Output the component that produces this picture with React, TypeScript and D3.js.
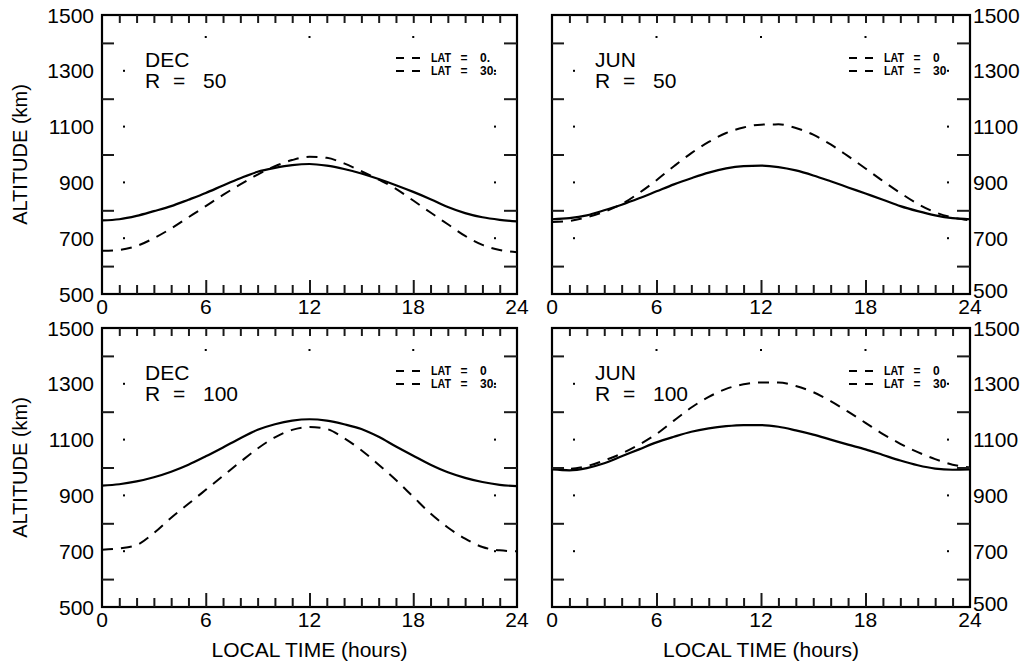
import React, { useEffect, useRef } from 'react';
import * as d3 from 'd3';

// local time, hours
const hours = [0, 1, 2, 3, 4, 5, 6, 7, 8, 9, 10, 11, 12, 13, 14, 15, 16, 17, 18, 19, 20, 21, 22, 23, 24];

// altitude (km) per hour, LAT = 0 (solid) and LAT = 30 (dashed)
const decR50Lat0 = [764, 768, 780, 797, 815, 838, 862, 889, 915, 938, 952, 962, 966, 960, 948, 932, 912, 890, 866, 840, 812, 790, 775, 766, 760];
const decR50Lat30 = [655, 658, 672, 700, 735, 775, 815, 855, 893, 928, 958, 980, 992, 988, 968, 940, 910, 877, 835, 792, 750, 708, 676, 658, 650];
const junR50Lat0 = [768, 772, 782, 800, 820, 843, 868, 893, 915, 935, 950, 958, 960, 955, 943, 925, 904, 882, 860, 838, 815, 797, 782, 772, 768];
const junR50Lat30 = [758, 762, 775, 795, 822, 862, 908, 958, 1005, 1045, 1077, 1097, 1107, 1108, 1095, 1071, 1036, 994, 950, 905, 862, 823, 793, 774, 764];
const decR100Lat0 = [935, 940, 950, 965, 985, 1010, 1040, 1072, 1105, 1135, 1155, 1168, 1173, 1168, 1155, 1138, 1110, 1075, 1042, 1010, 983, 963, 948, 938, 933];
const decR100Lat30 = [705, 710, 722, 765, 820, 870, 920, 970, 1020, 1068, 1108, 1135, 1145, 1138, 1105, 1062, 1010, 955, 895, 835, 785, 745, 715, 703, 700];
const junR100Lat0 = [993, 990, 998, 1015, 1040, 1065, 1090, 1110, 1128, 1140, 1148, 1152, 1152, 1146, 1133, 1118, 1100, 1082, 1065, 1045, 1025, 1008, 996, 992, 993];
const junR100Lat30 = [995, 995, 1005, 1025, 1050, 1082, 1120, 1168, 1215, 1253, 1282, 1298, 1305, 1305, 1292, 1270, 1238, 1200, 1160, 1120, 1085, 1055, 1030, 1010, 1000];

const xTickLabels = [0, 6, 12, 18, 24];
const yTickLabels = [500, 700, 900, 1100, 1300, 1500];
const yMinorTicks = [600, 800, 1000, 1200, 1400];

const panels = [
  { id: 'a', month: 'DEC', r: '50', lat0: decR50Lat0, lat30: decR50Lat30, legend: ['0.', '30.'], x0: 102, x1: 517, y0: 15, y1: 294, side: 'left', bottom: false },
  { id: 'b', month: 'JUN', r: '50', lat0: junR50Lat0, lat30: junR50Lat30, legend: ['0', '30'], x0: 552, x1: 970, y0: 15, y1: 294, side: 'right', bottom: false },
  { id: 'c', month: 'DEC', r: '100', lat0: decR100Lat0, lat30: decR100Lat30, legend: ['0', '30.'], x0: 102, x1: 517, y0: 328, y1: 607, side: 'left', bottom: true },
  { id: 'd', month: 'JUN', r: '100', lat0: junR100Lat0, lat30: junR100Lat30, legend: ['0', '30'], x0: 552, x1: 970, y0: 328, y1: 607, side: 'right', bottom: true },
];

const font = '"Liberation Sans", Arial, sans-serif';
const tickColor = '#1a1a1a';

const Panel = ({ p }) => {
  const axRef = useRef(null);
  const x = d3.scaleLinear().domain([0, 24]).range([p.x0, p.x1]);
  const y = d3.scaleLinear().domain([500, 1500]).range([p.y1, p.y0]);
  const curve = d3.line<number>().x((_, i) => x(hours[i])).y(d => y(d)).curve(d3.curveMonotoneX);
  const lx = p.x1;

  // tick marks drawn with d3 axes, pointing into the frame
  useEffect(() => {
    const g = d3.select(axRef.current);
    g.selectAll('*').remove();
    const inner = hours.filter(h => h > 0 && h < 24);
    const minor = inner.filter(h => h % 6 !== 0);
    const major = inner.filter(h => h % 6 === 0);
    const clean = sel => {
      sel.select('.domain').remove();
      sel.selectAll('text').remove();
      sel.selectAll('line').attr('stroke', tickColor).attr('stroke-width', 2);
    };
    g.append('g').attr('transform', `translate(0,${p.y1})`).call(d3.axisTop(x).tickValues(minor).tickSize(9)).call(clean);
    g.append('g').attr('transform', `translate(0,${p.y1})`).call(d3.axisTop(x).tickValues(major).tickSize(14)).call(clean);
    g.append('g').attr('transform', `translate(0,${p.y0})`).call(d3.axisBottom(x).tickValues(inner).tickSize(8)).call(clean);
    g.append('g').attr('transform', `translate(${p.x0},0)`).call(d3.axisRight(y).tickValues(yMinorTicks).tickSize(12)).call(clean);
    g.append('g').attr('transform', `translate(${p.x1},0)`).call(d3.axisLeft(y).tickValues(yMinorTicks).tickSize(13)).call(clean);
  }, [p]);

  return (
    <g>
      <path d={curve(p.lat0)} fill="none" stroke="#000" strokeWidth={2.2} />
      <path d={curve(p.lat30)} fill="none" stroke="#000" strokeWidth={2} strokeDasharray="11 8" />

      <rect x={p.x0} y={p.y0} width={p.x1 - p.x0} height={p.y1 - p.y0} fill="none" stroke="#000" strokeWidth={2.2} />
      <g ref={axRef} />

      {/* faint major ticks show only as dots */}
      {xTickLabels.slice(1, -1).map(h => (
        <rect key={'xd' + h} x={x(h) - 1} y={p.y0 + 21} width={2} height={2} fill="#000" />
      ))}
      {yTickLabels.slice(1, -1).map(v => (
        <rect key={'ydl' + v} x={p.x0 + 21} y={y(v) - 1} width={2} height={2} fill="#000" />
      ))}
      {yTickLabels.slice(1, -1).map(v => (
        <rect key={'ydr' + v} x={p.x1 - 23} y={y(v) - 1} width={2} height={2} fill="#000" />
      ))}

      {xTickLabels.map(h => (
        <text key={'xl' + h} x={x(h)} y={p.y1 + 20} textAnchor="middle" fontSize={21} fontFamily={font}>{h}</text>
      ))}

      {yTickLabels.map(v => (
        <text key={'yt' + v} x={p.side === 'left' ? p.x0 - 8 : p.x1 + 3} y={p.side === 'right' && v === 500 ? y(v) - 4 : y(v)} dy="0.36em"
          textAnchor={p.side === 'left' ? 'end' : 'start'} fontSize={21} fontFamily={font}>{v}</text>
      ))}

      <text x={p.x0 + 43} y={p.y0 + 52} fontSize={21} fontFamily={font}>{p.month}</text>
      <text x={p.x0 + 43} y={p.y0 + 73} fontSize={21} fontFamily={font}>R</text>
      <text x={p.x0 + 71} y={p.y0 + 73} fontSize={21} fontFamily={font}>=</text>
      <text x={p.x0 + 101} y={p.y0 + 73} fontSize={21} fontFamily={font}>{p.r}</text>

      {p.legend.map((lab, i) => {
        const ly = p.y0 + 43 + i * 13;
        return (
          <g key={'lg' + i}>
            <path d={`M${lx - 121},${ly}H${lx - 97}`} stroke="#000" strokeWidth={2} strokeDasharray="8 8" />
            <text x={lx - 86} y={ly} dy="0.36em" fontSize={12} fontWeight="bold" fontFamily={font} textLength={20} lengthAdjust="spacingAndGlyphs">LAT</text>
            <text x={lx - 53} y={ly} dy="0.36em" fontSize={12} fontWeight="bold" fontFamily={font} textAnchor="middle">=</text>
            <text x={lx - 37} y={ly} dy="0.36em" fontSize={12} fontWeight="bold" fontFamily={font}>{lab}</text>
          </g>
        );
      })}

      {p.side === 'left' && (
        <text transform={`translate(20,${(p.y0 + p.y1) / 2}) rotate(-90)`} textAnchor="middle" dy="0.36em" fontSize={20} fontFamily={font}>ALTITUDE (km)</text>
      )}
      {p.bottom && (
        <text x={(p.x0 + p.x1) / 2} y={p.y1 + 50} textAnchor="middle" fontSize={21} fontFamily={font}>LOCAL TIME (hours)</text>
      )}
    </g>
  );
};

export default function App() {
  return (
    <svg width={1034} height={667} style={{ position: 'absolute', left: 0, top: 0, background: '#fff' }}>
      <rect width={1034} height={667} fill="#fff" />
      {panels.map(p => <Panel key={p.id} p={p} />)}
    </svg>
  );
}
